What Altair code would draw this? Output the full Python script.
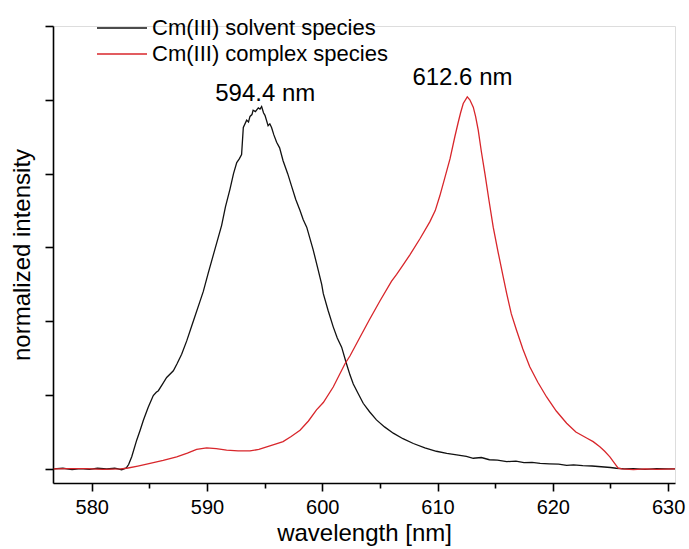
import altair as alt
import pandas as pd

# ---- data ----
solvent_wl = [576.7, 577.5, 578.3, 579.0, 579.8, 580.5, 581.3, 582.0, 582.6, 583.0,
              583.2, 583.47, 583.9, 584.2, 584.48, 584.9, 585.34, 585.6, 585.78, 586.1,
              586.5, 587.08, 587.4, 587.8, 588.24, 588.81, 589.39, 589.68, 590.1, 590.55,
              591.27, 591.6, 592.0, 592.3, 592.58, 592.8, 593.0, 593.15, 593.44, 593.6,
              593.73, 593.9, 594.0, 594.2, 594.45, 594.6, 594.74, 594.9, 595.03, 595.3,
              595.45, 595.6, 595.8, 596.04, 596.3, 596.6, 597.0, 597.35, 597.7, 598.07,
              598.35, 598.65, 599.2, 599.6, 599.95, 600.09, 600.5, 600.95, 601.3, 601.68,
              602.1, 602.4, 602.69, 603.1, 603.55, 604.1, 604.7, 605.4, 606.16, 607.0,
              607.9, 608.9, 609.9, 610.8, 611.66, 612.5, 613.1, 613.8, 614.5, 615.2,
              616.0, 616.8, 617.5, 618.2, 618.9, 619.7, 620.5, 621.2, 621.8, 622.6,
              623.4, 624.2, 625.0, 625.5, 626.2, 627.0, 628.0, 629.0, 630.0, 630.6]
solvent_int = [0.0, 0.002, -0.002, 0.001, -0.001, 0.002, 0.0, 0.002, -0.002, 0.003,
               0.012, 0.033, 0.078, 0.105, 0.132, 0.167, 0.199, 0.208, 0.212, 0.228,
               0.248, 0.266, 0.285, 0.311, 0.347, 0.400, 0.454, 0.481, 0.530, 0.580,
               0.660, 0.710, 0.759, 0.800, 0.830, 0.840, 0.852, 0.925, 0.945, 0.940,
               0.955, 0.960, 0.972, 0.968, 0.978, 0.975, 0.982, 0.965, 0.958, 0.930,
               0.935, 0.925, 0.905, 0.885, 0.870, 0.835, 0.800, 0.765, 0.730, 0.700,
               0.675, 0.655, 0.595, 0.545, 0.500, 0.475, 0.430, 0.385, 0.355, 0.330,
               0.285, 0.255, 0.230, 0.205, 0.178, 0.155, 0.133, 0.114, 0.097, 0.082,
               0.069, 0.057, 0.048, 0.042, 0.038, 0.034, 0.029, 0.031, 0.025, 0.024,
               0.020, 0.021, 0.017, 0.018, 0.015, 0.014, 0.013, 0.010, 0.011, 0.009,
               0.008, 0.006, 0.004, 0.002, 0.0, 0.001, -0.001, 0.001, 0.0, 0.0]

complex_wl = [576.7, 578.0, 579.5, 581.0, 582.5, 583.04, 584.0, 585.06, 586.2, 587.37,
              588.3, 589.1, 589.97, 590.8, 591.7, 592.7, 593.73, 594.5, 595.18, 596.0,
              596.6, 597.3, 598.07, 598.8, 599.5, 600.09, 600.95, 601.97, 602.4, 603.27,
              604.1, 605.0, 606.0, 606.45, 607.0, 607.6, 608.5, 609.34, 609.8, 610.2,
              610.6, 611.08, 611.5, 611.8, 612.0, 612.23, 612.58, 612.8, 613.1, 613.3,
              613.53, 613.8, 614.11, 614.45, 614.83, 615.27, 615.7, 616.0, 616.4, 616.86,
              617.4, 618.0, 618.7, 619.46, 620.3, 621.2, 622.0, 622.93, 623.5, 624.08,
              624.5, 624.95, 625.3, 625.67, 626.0, 627.0, 628.0, 629.0, 630.6]
complex_int = [0.0, 0.001, 0.001, -0.001, 0.0, 0.002, 0.008, 0.015, 0.023, 0.033,
               0.043, 0.053, 0.057, 0.055, 0.051, 0.049, 0.049, 0.053, 0.060, 0.068,
               0.074, 0.088, 0.105, 0.130, 0.160, 0.180, 0.222, 0.285, 0.306, 0.357,
               0.405, 0.455, 0.508, 0.527, 0.552, 0.580, 0.625, 0.670, 0.700, 0.740,
               0.785, 0.840, 0.900, 0.940, 0.965, 0.990, 1.008, 1.000, 0.980, 0.955,
               0.918, 0.860, 0.800, 0.730, 0.655, 0.585, 0.520, 0.475, 0.420, 0.375,
               0.325, 0.277, 0.235, 0.195, 0.157, 0.124, 0.100, 0.084, 0.074, 0.060,
               0.048, 0.033, 0.018, 0.002, 0.0, -0.002, 0.0, -0.001, 0.0]

series_names = ["Cm(III) solvent species", "Cm(III) complex species"]
series_colors = ["#111111", "#d8262b"]

peak_labels = ["594.4 nm", "612.6 nm"]
peak_x = [595.05, 612.16]
peak_y = [0.997, 1.04]

x_ticks = [580, 585, 590, 595, 600, 605, 610, 615, 620, 625, 630]
y_ticks = [0.0, 0.1, 0.2, 0.3, 0.4, 0.5, 0.6, 0.7, 0.8, 0.9, 1.0, 1.1, 1.2]

# ---- tables ----
df = pd.concat([
    pd.DataFrame({"wl": solvent_wl, "val": solvent_int, "series": series_names[0], "o": range(len(solvent_wl))}),
    pd.DataFrame({"wl": complex_wl, "val": complex_int, "series": series_names[1], "o": range(len(complex_wl))}),
])
ann = pd.DataFrame({"wl": peak_x, "val": peak_y, "txt": peak_labels})

FONT = "Liberation Sans"

xscale = alt.Scale(domain=[576.64, 630.6], nice=False, zero=False)
yscale = alt.Scale(domain=[-0.038, 1.2], nice=False, zero=False)

lines = alt.Chart(df).mark_line(strokeWidth=1.3, clip=True).encode(
    x=alt.X("wl:Q", scale=xscale, title="wavelength [nm]",
            axis=alt.Axis(values=x_ticks, grid=False,
                          labelExpr="datum.value % 10 === 0 ? datum.label : ''",
                          tickSize={"condition": {"test": "datum.value % 10 === 0", "value": 8}, "value": 5},
                          labelFontSize=20, titleFontSize=24, labelPadding=6,
                          titleBaseline="alphabetic", titleY=57,
                          labelFont=FONT, titleFont=FONT, titleFontWeight="normal",
                          labelColor="black", titleColor="black",
                          domainColor="black", tickColor="black", domainWidth=1.6, tickWidth=1.6)),
    y=alt.Y("val:Q", scale=yscale, title="normalized intensity",
            axis=alt.Axis(values=y_ticks, grid=False, labels=False,
                          tickSize={"condition": {"test": "abs(datum.value*5 - round(datum.value*5)) < 0.01", "value": 8}, "value": 5},
                          titleFontSize=24, titlePadding=10, titleFont=FONT, titleFontWeight="normal",
                          titleColor="black", domainColor="black", tickColor="black",
                          domainWidth=1.6, tickWidth=1.6)),
    color=alt.Color("series:N", scale=alt.Scale(domain=series_names, range=series_colors),
                    legend=alt.Legend(title=None, orient="none", legendX=58, legendY=-9,
                                      symbolType="M-5,0H5", symbolSize=100, symbolStrokeWidth=1.5,
                                      labelFontSize=22, labelFont=FONT, labelColor="black",
                                      labelOffset=19, rowPadding=4, labelLimit=400)),
    order="o:Q",
)

texts = alt.Chart(ann).mark_text(fontSize=24, font=FONT, color="black", baseline="alphabetic", align="center").encode(
    x=alt.X("wl:Q", scale=xscale),
    y=alt.Y("val:Q", scale=yscale),
    text="txt:N",
)

chart = alt.layer(lines, texts).properties(
    width=622, height=457,
    autosize=alt.AutoSizeParams(type="none"),
    padding={"left": 53, "top": 26, "right": 14, "bottom": 66},
).configure_view(stroke=None).configure(background="white")

chart.save("out.html", embed_options={"renderer": "svg", "actions": False})
